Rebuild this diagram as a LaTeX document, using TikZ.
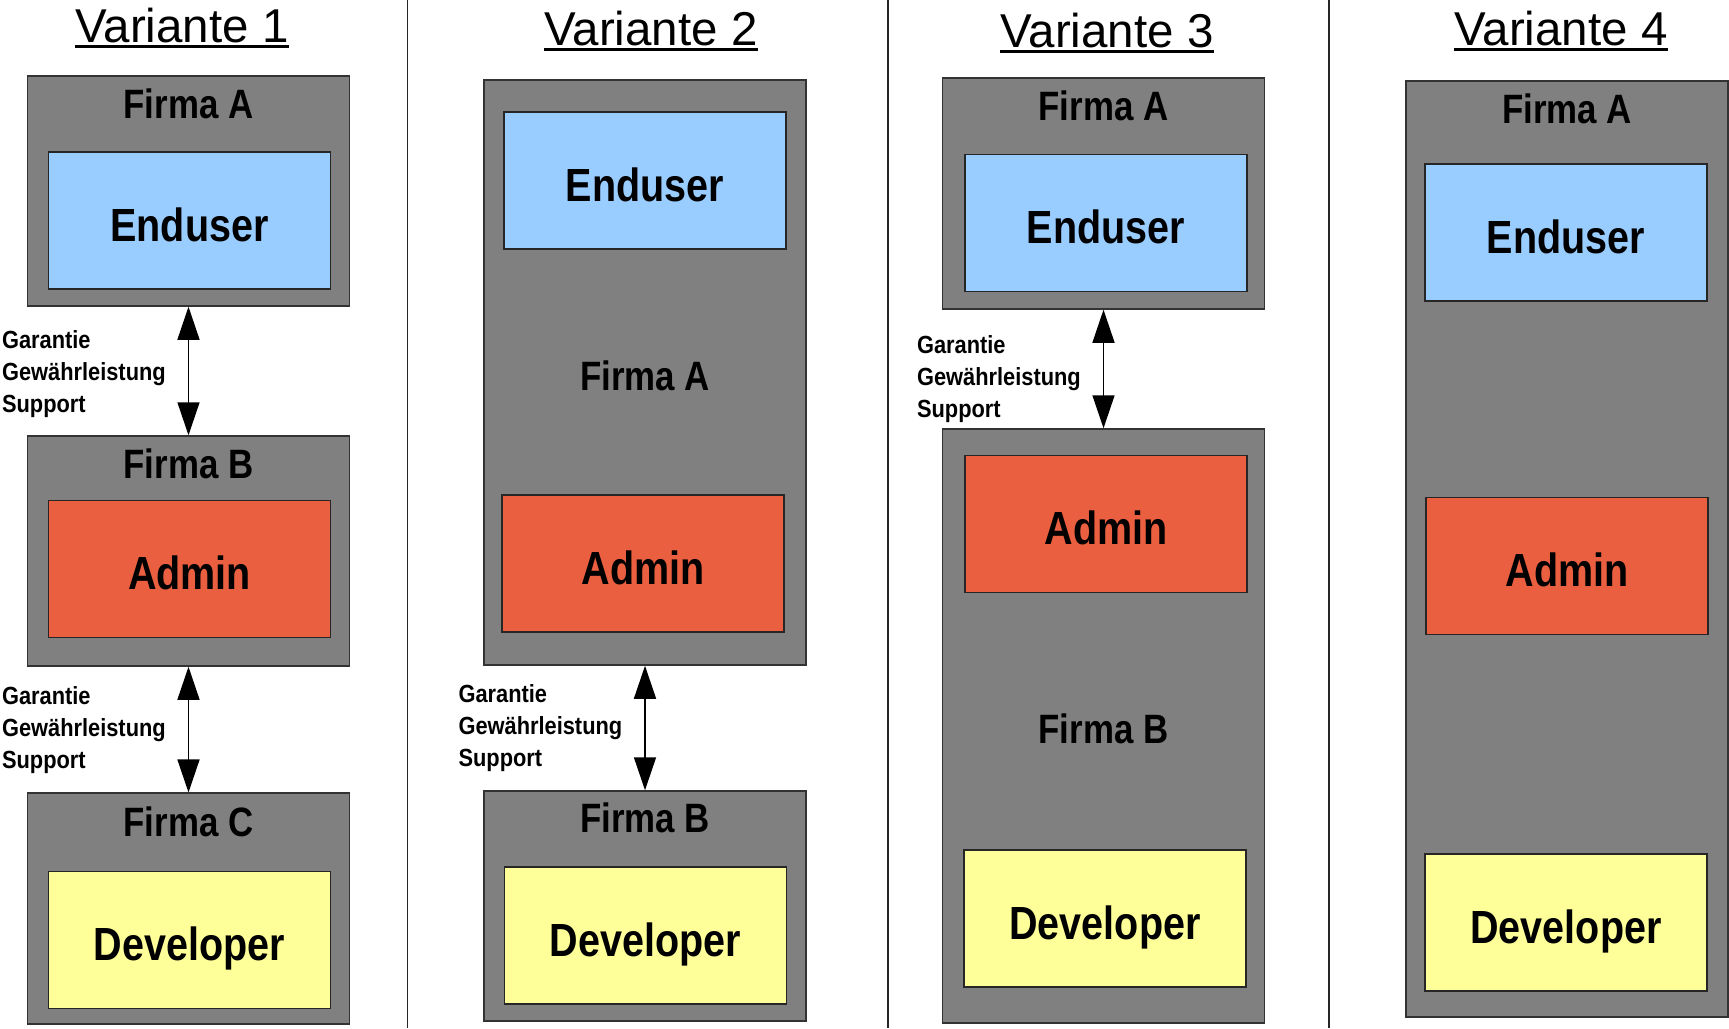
\documentclass[tikz,border=0pt]{standalone}
\usepackage{fontspec}
\setmainfont{Liberation Sans}
\newfontfamily\narrowfont[FakeStretch=0.85]{Liberation Sans}
\newfontfamily\notefont[FakeStretch=0.88]{Liberation Sans}
\usetikzlibrary{arrows.meta}

\begin{document}
\begin{tikzpicture}
		[x=1pt,y=-1pt,line cap=butt,
		%Styles
		title/.style={font=\fontsize{47.5}{50}\selectfont,anchor=base,inner sep=0pt},
		underline/.style={line width=2.5pt},
		separator/.style={draw=black!85,line width=1.3pt},
		firm box/.style={draw=black!80,fill=firmgray,line width=1.5pt,minimum width=322pt,inner sep=0pt},
		firm text/.style={font=\narrowfont\fontsize{41}{45}\selectfont\bfseries,anchor=base,inner sep=0pt},
		role box/.style={draw=black!85,line width=1.5pt,minimum width=282pt,minimum height=137pt,inner sep=0pt,
			font=\narrowfont\fontsize{46.5}{50}\selectfont\bfseries,text height=41pt,text depth=0pt},
		enduser/.style={role box,fill=enduserblue},
		admin/.style={role box,fill=adminred},
		developer/.style={role box,fill=devyellow},
		link/.style={line width=1.5pt,{Triangle[length=33pt,width=22pt]}-{Triangle[length=33pt,width=22pt]}},
		note/.style={font=\notefont\fontsize{24.8}{32}\selectfont\bfseries,align=left,inner sep=0pt,left=22pt}
		]
		
		%Colors
		\definecolor{firmgray}{RGB}{128,128,128}
		\definecolor{enduserblue}{RGB}{153,204,255}
		\definecolor{adminred}{RGB}{234,95,64}
		\definecolor{devyellow}{RGB}{255,255,153}
		
		\path[use as bounding box,fill=white] (0,0) rectangle (1729,1028);
		
		%Separators
		\draw[separator] (407.5,0) -- (407.5,1028);
		\draw[separator] (888,0) -- (888,1028);
		\draw[separator] (1329,0) -- (1329,1028);
		
		%Titles
		\node[title] (v1) at (182,42.7) {Variante 1};
		\node[title] (v2) at (651,45.3) {Variante 2};
		\node[title] (v3) at (1107,47.5) {Variante 3};
		\node[title] (v4) at (1561,45.3) {Variante 4};
		\draw[underline] ([yshift=-4pt]v1.base west) -- ([yshift=-4pt]v1.base east);
		\draw[underline] ([yshift=-4pt]v2.base west) -- ([yshift=-4pt]v2.base east);
		\draw[underline] ([yshift=-4pt]v3.base west) -- ([yshift=-4pt]v3.base east);
		\draw[underline] ([yshift=-4pt]v4.base west) -- ([yshift=-4pt]v4.base east);
		
		%Variante 1
		\node[firm box,minimum height=230pt] (firmaA1) at (188.5,191) {};
		\node[firm text] (labelA1) at (188.5,118) {Firma A};
		\node[enduser] (enduser1) at (189.5,220.5) {Enduser};
		\node[firm box,minimum height=230pt] (firmaB1) at (188.5,551) {};
		\node[firm text] (labelB1) at (188.5,478) {Firma B};
		\node[admin] (admin1) at (189.5,569) {Admin};
		\node[firm box,minimum height=231pt] (firmaC1) at (188.5,908.7) {};
		\node[firm text] (labelC1) at (188.5,836.7) {Firma C};
		\node[developer] (developer1) at (189.5,940.2) {Developer};
		
		%Variante 2
		\node[firm box,minimum height=585pt] (firmaA2) at (645,372.5) {};
		\node[firm text] (labelA2) at (645,390.7) {Firma A};
		\node[enduser] (enduser2) at (645,180.5) {Enduser};
		\node[admin] (admin2) at (643,563.5) {Admin};
		\node[firm box,minimum height=230pt] (firmaB2) at (645,906) {};
		\node[firm text] (labelB2) at (645,832) {Firma B};
		\node[developer] (developer2) at (645.5,935.5) {Developer};
		
		%Variante 3
		\node[firm box,minimum height=231pt] (firmaA3) at (1103.5,193.5) {};
		\node[firm text] (labelA3) at (1103.5,120.6) {Firma A};
		\node[enduser] (enduser3) at (1106,223) {Enduser};
		\node[firm box,minimum height=594pt] (firmaB3) at (1103.5,726) {};
		\node[firm text] (labelB3) at (1103.5,743.7) {Firma B};
		\node[admin] (admin3) at (1106,524) {Admin};
		\node[developer] (developer3) at (1105,918.5) {Developer};
		
		%Variante 4
		\node[firm box,minimum height=936pt] (firmaA4) at (1567,549) {};
		\node[firm text] (labelA4) at (1567,123) {Firma A};
		\node[enduser] (enduser4) at (1566,232.5) {Enduser};
		\node[admin] (admin4) at (1567,566) {Admin};
		\node[developer] (developer4) at (1566,922.5) {Developer};
		
		%Links
		\draw[link] (firmaA1) -- node[note,yshift=-3pt] {Garantie\\Gewährleistung\\Support} (firmaB1);
		\draw[link] (firmaB1) -- node[note] {Garantie\\Gewährleistung\\Support} (firmaC1);
		\draw[link] (firmaA2) -- node[note] {Garantie\\Gewährleistung\\Support} (firmaB2);
		\draw[link] (firmaA3) -- node[note,yshift=-10pt] {Garantie\\Gewährleistung\\Support} (firmaB3);
	\end{tikzpicture}
\end{document}
